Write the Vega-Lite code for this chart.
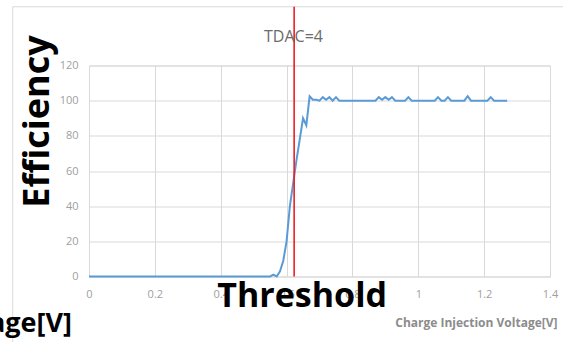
{
  "$schema": "https://vega.github.io/schema/vega-lite/v6.json",
  "width": 461,
  "height": 211,
  "autosize": {"type": "none"},
  "padding": {"left": 89, "top": 65.5, "right": 13, "bottom": 65.5},
  "background": "white",
  "config": {
    "font": "Open Sans",
    "view": {"stroke": "#d9d9d9", "strokeWidth": 1},
    "axis": {
      "grid": true,
      "gridColor": "#d9d9d9",
      "gridWidth": 1,
      "domain": false,
      "ticks": false,
      "labelFlush": false,
      "labelOverlap": false,
      "labelFont": "Open Sans",
      "labelFontSize": 11,
      "labelColor": "#a0a0a0",
      "tickCount": 7,
      "format": "~r",
      "titleFont": "Open Sans",
      "titleFontWeight": "bold",
      "titleBaseline": "alphabetic"
    },
    "axisX": {
      "labelPadding": 12,
      "titleFontSize": 12,
      "titleColor": "#8c8c8c",
      "titleAlign": "right",
      "titleX": 468,
      "titleY": 50
    },
    "axisY": {
      "labelPadding": 11,
      "titleFontSize": 36,
      "titleColor": "#000000",
      "titleAngle": 270,
      "titleAlign": "center",
      "titleX": -41,
      "titleY": 55.5
    }
  },
  "title": {
    "text": "TDAC=4",
    "font": "Open Sans",
    "fontSize": 16,
    "fontWeight": "normal",
    "color": "#6b6b6b",
    "frame": "group",
    "anchor": "middle",
    "dx": -26,
    "offset": -39
  },
  "datasets": {
    "curve": [
      {"v": 0.00, "eff": 0}, {"v": 0.01, "eff": 0}, {"v": 0.02, "eff": 0}, {"v": 0.03, "eff": 0},
      {"v": 0.04, "eff": 0}, {"v": 0.05, "eff": 0}, {"v": 0.06, "eff": 0}, {"v": 0.07, "eff": 0},
      {"v": 0.08, "eff": 0}, {"v": 0.09, "eff": 0}, {"v": 0.10, "eff": 0}, {"v": 0.11, "eff": 0},
      {"v": 0.12, "eff": 0}, {"v": 0.13, "eff": 0}, {"v": 0.14, "eff": 0}, {"v": 0.15, "eff": 0},
      {"v": 0.16, "eff": 0}, {"v": 0.17, "eff": 0}, {"v": 0.18, "eff": 0}, {"v": 0.19, "eff": 0},
      {"v": 0.20, "eff": 0}, {"v": 0.21, "eff": 0}, {"v": 0.22, "eff": 0}, {"v": 0.23, "eff": 0},
      {"v": 0.24, "eff": 0}, {"v": 0.25, "eff": 0}, {"v": 0.26, "eff": 0}, {"v": 0.27, "eff": 0},
      {"v": 0.28, "eff": 0}, {"v": 0.29, "eff": 0}, {"v": 0.30, "eff": 0}, {"v": 0.31, "eff": 0},
      {"v": 0.32, "eff": 0}, {"v": 0.33, "eff": 0}, {"v": 0.34, "eff": 0}, {"v": 0.35, "eff": 0},
      {"v": 0.36, "eff": 0}, {"v": 0.37, "eff": 0}, {"v": 0.38, "eff": 0}, {"v": 0.39, "eff": 0},
      {"v": 0.40, "eff": 0}, {"v": 0.41, "eff": 0}, {"v": 0.42, "eff": 0}, {"v": 0.43, "eff": 0},
      {"v": 0.44, "eff": 0}, {"v": 0.45, "eff": 0}, {"v": 0.46, "eff": 0}, {"v": 0.47, "eff": 0},
      {"v": 0.48, "eff": 0}, {"v": 0.49, "eff": 0}, {"v": 0.50, "eff": 0}, {"v": 0.51, "eff": 0},
      {"v": 0.52, "eff": 0}, {"v": 0.53, "eff": 0}, {"v": 0.54, "eff": 0}, {"v": 0.55, "eff": 0},
      {"v": 0.56, "eff": 1}, {"v": 0.57, "eff": 0}, {"v": 0.58, "eff": 3}, {"v": 0.59, "eff": 9},
      {"v": 0.60, "eff": 20}, {"v": 0.61, "eff": 40}, {"v": 0.62, "eff": 53}, {"v": 0.63, "eff": 66},
      {"v": 0.64, "eff": 78}, {"v": 0.65, "eff": 90}, {"v": 0.66, "eff": 86}, {"v": 0.67, "eff": 102.5},
      {"v": 0.68, "eff": 100.5}, {"v": 0.69, "eff": 100.5}, {"v": 0.70, "eff": 100}, {"v": 0.71, "eff": 102},
      {"v": 0.72, "eff": 100.5}, {"v": 0.73, "eff": 102}, {"v": 0.74, "eff": 100}, {"v": 0.75, "eff": 102},
      {"v": 0.76, "eff": 100}, {"v": 0.77, "eff": 100}, {"v": 0.78, "eff": 100}, {"v": 0.79, "eff": 100},
      {"v": 0.80, "eff": 100}, {"v": 0.81, "eff": 100}, {"v": 0.82, "eff": 100}, {"v": 0.83, "eff": 100},
      {"v": 0.84, "eff": 100}, {"v": 0.85, "eff": 100}, {"v": 0.86, "eff": 100}, {"v": 0.87, "eff": 100},
      {"v": 0.88, "eff": 102}, {"v": 0.89, "eff": 100.5}, {"v": 0.90, "eff": 102}, {"v": 0.91, "eff": 100.5},
      {"v": 0.92, "eff": 102}, {"v": 0.93, "eff": 100}, {"v": 0.94, "eff": 100}, {"v": 0.95, "eff": 100},
      {"v": 0.96, "eff": 100}, {"v": 0.97, "eff": 102}, {"v": 0.98, "eff": 100}, {"v": 0.99, "eff": 100},
      {"v": 1.00, "eff": 100}, {"v": 1.01, "eff": 100}, {"v": 1.02, "eff": 100}, {"v": 1.03, "eff": 100},
      {"v": 1.04, "eff": 100}, {"v": 1.05, "eff": 100}, {"v": 1.06, "eff": 102}, {"v": 1.07, "eff": 100},
      {"v": 1.08, "eff": 100}, {"v": 1.09, "eff": 102}, {"v": 1.10, "eff": 100}, {"v": 1.11, "eff": 100},
      {"v": 1.12, "eff": 100}, {"v": 1.13, "eff": 100}, {"v": 1.14, "eff": 100}, {"v": 1.15, "eff": 102.5},
      {"v": 1.16, "eff": 100}, {"v": 1.17, "eff": 100}, {"v": 1.18, "eff": 100}, {"v": 1.19, "eff": 100},
      {"v": 1.20, "eff": 100}, {"v": 1.21, "eff": 100}, {"v": 1.22, "eff": 102}, {"v": 1.23, "eff": 100},
      {"v": 1.24, "eff": 100}, {"v": 1.25, "eff": 100}, {"v": 1.26, "eff": 100}, {"v": 1.27, "eff": 100}
    ],
    "threshold": [{"v": 0.623, "label": "Threshold"}],
    "notes": [{"label": "Charge Injection Voltage[V]"}]
  },
  "layer": [
    {
      "data": {"name": "curve"},
      "mark": {"type": "line", "color": "#5b9bd5", "strokeWidth": 2},
      "encoding": {
        "x": {"field": "v", "type": "quantitative", "title": "Charge Injection Voltage[V]", "scale": {"domain": [0, 1.4], "nice": false}},
        "y": {"field": "eff", "type": "quantitative", "title": "Efficiency", "scale": {"domain": [0, 120], "nice": false}}
      }
    },
    {
      "data": {"values": [{}]},
      "mark": {"type": "rect", "fill": null, "stroke": "#d9d9d9", "strokeWidth": 1, "clip": false},
      "encoding": {
        "x": {"datum": -0.2316, "type": "quantitative", "title": "Charge Injection Voltage[V]", "scale": {"domain": [0, 1.4], "nice": false}},
        "x2": {"datum": 1.75},
        "y": {"datum": 153.4, "type": "quantitative", "title": "Efficiency", "scale": {"domain": [0, 120], "nice": false}},
        "y2": {"datum": -45}
      }
    },
    {
      "data": {"name": "threshold"},
      "mark": {"type": "rule", "color": "#ee1c24", "strokeWidth": 1.6, "clip": false},
      "encoding": {
        "x": {"field": "v", "type": "quantitative", "title": "Charge Injection Voltage[V]", "scale": {"domain": [0, 1.4], "nice": false}},
        "y": {"datum": 0, "type": "quantitative", "title": "Efficiency", "scale": {"domain": [0, 120], "nice": false}},
        "y2": {"datum": 153.4}
      }
    },
    {
      "data": {"name": "threshold"},
      "mark": {
        "type": "text",
        "font": "Open Sans",
        "fontSize": 34,
        "fontWeight": "bold",
        "color": "#000000",
        "align": "center",
        "baseline": "alphabetic",
        "dx": 8,
        "dy": 30,
        "clip": false
      },
      "encoding": {
        "x": {"field": "v", "type": "quantitative", "title": "Charge Injection Voltage[V]", "scale": {"domain": [0, 1.4], "nice": false}},
        "y": {"datum": 0, "type": "quantitative", "title": "Efficiency", "scale": {"domain": [0, 120], "nice": false}},
        "text": {"field": "label"}
      }
    },
    {
      "data": {"name": "notes"},
      "mark": {
        "type": "text",
        "font": "Open Sans",
        "fontSize": 27,
        "fontWeight": "bold",
        "color": "#000000",
        "align": "right",
        "baseline": "alphabetic",
        "dx": -17,
        "dy": 55.5,
        "clip": false
      },
      "encoding": {
        "x": {"datum": 0, "type": "quantitative", "title": "Charge Injection Voltage[V]", "scale": {"domain": [0, 1.4], "nice": false}},
        "y": {"datum": 0, "type": "quantitative", "title": "Efficiency", "scale": {"domain": [0, 120], "nice": false}},
        "text": {"field": "label"}
      }
    }
  ]
}
